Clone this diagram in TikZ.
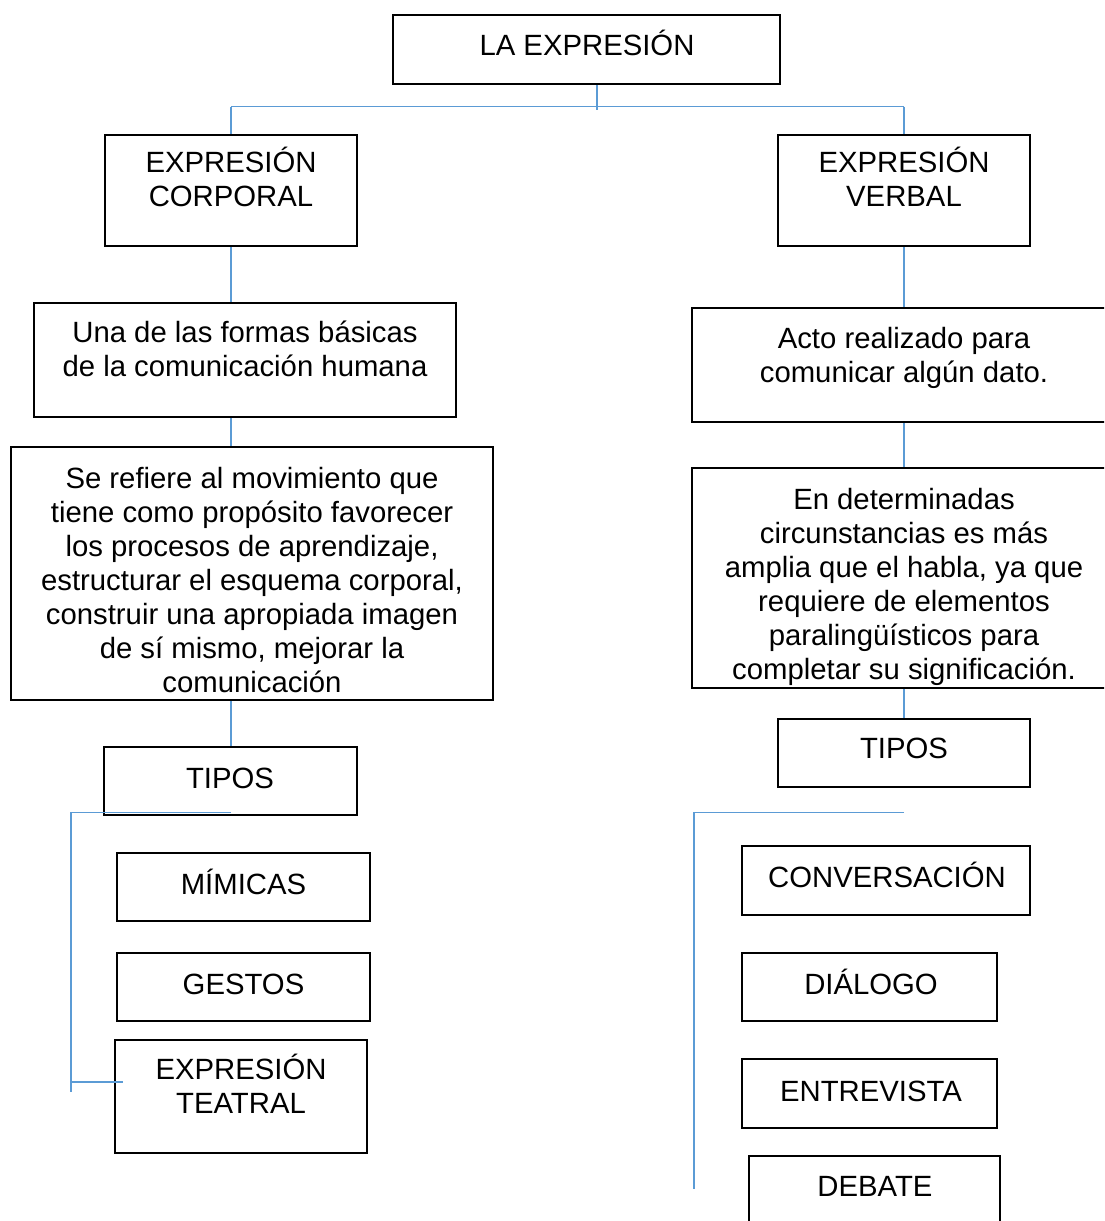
\documentclass[tikz,border=0pt]{standalone}
\usepackage{fontspec}
\setmainfont{Liberation Sans}
\newcommand{\mlines}[1]{\begin{tabular}[t]{@{}c@{}}#1\end{tabular}}
\definecolor{linkblue}{RGB}{91,155,213}
\begin{document}
\begin{tikzpicture}[x=1pt,y=-1pt,
  box/.style={draw=black, line width=2.2pt, fill=none, inner sep=0pt},
  txt/.style={anchor=base, inner sep=0pt, font=\fontsize{29.3}{34}\selectfont},
  link/.style={draw=linkblue, line width=1.6pt}]
\useasboundingbox (0,0) rectangle (1104,1221);
\clip (0,0) rectangle (1104,1221);
\fill[white] (0,0) rectangle (1104,1221);
% boxes
\node[box, minimum width=387, minimum height=69] (top) at (586.5,49.5) {};
\node[box, minimum width=252, minimum height=111] (ec) at (231,190.5) {};
\node[box, minimum width=252, minimum height=111] (ev) at (904,190.5) {};
\node[box, minimum width=422, minimum height=114] (una) at (245,360) {};
\node[box, minimum width=482, minimum height=253] (se) at (252,573.5) {};
\node[box, minimum width=253, minimum height=68] (tl) at (230.5,781) {};
\node[box, minimum width=253, minimum height=68] (mim) at (243.5,887) {};
\node[box, minimum width=253, minimum height=68] (ges) at (243.5,987) {};
\node[box, minimum width=252, minimum height=113] (tea) at (241,1096.5) {};
\node[box, minimum width=418, minimum height=114] (acto) at (901,365) {};
\node[box, minimum width=418, minimum height=220] (endet) at (901,578) {};
\node[box, minimum width=252, minimum height=68] (tr) at (904,753) {};
\node[box, minimum width=288, minimum height=69] (conv) at (886,880.5) {};
\node[box, minimum width=255, minimum height=68] (dial) at (869.5,987) {};
\node[box, minimum width=255, minimum height=69] (entr) at (869.5,1093.5) {};
\node[box, minimum width=251, minimum height=74] (deb) at (874.5,1193) {};
% texts
\node[txt] (top-t) at (587,55) {LA EXPRESIÓN};
\node[txt] (ec-t) at (231,172) {\mlines{EXPRESIÓN\\CORPORAL}};
\node[txt] (ev-t) at (904,172) {\mlines{EXPRESIÓN\\VERBAL}};
\node[txt] (una-t) at (245,342) {\mlines{Una de las formas básicas\\de la comunicación humana}};
\node[txt] (se-t) at (252,488) {\mlines{Se refiere al movimiento que\\tiene como propósito favorecer\\los procesos de aprendizaje,\\estructurar el esquema corporal,\\construir una apropiada imagen\\de sí mismo, mejorar la\\comunicación}};
\node[txt] (tl-t) at (230,788) {TIPOS};
\node[txt] (mim-t) at (243.5,894) {MÍMICAS};
\node[txt] (ges-t) at (243.5,994) {GESTOS};
\node[txt] (tea-t) at (241,1079) {\mlines{EXPRESIÓN\\TEATRAL}};
\node[txt] (acto-t) at (904,348) {\mlines{Acto realizado para\\comunicar algún dato.}};
\node[txt] (endet-t) at (904,509) {\mlines{En determinadas\\circunstancias es más\\amplia que el habla, ya que\\requiere de elementos\\paralingüísticos para\\completar su significación.}};
\node[txt] (tr-t) at (904,758) {TIPOS};
\node[txt] (conv-t) at (887,887) {CONVERSACIÓN};
\node[txt] (dial-t) at (871,994) {DIÁLOGO};
\node[txt] (entr-t) at (871,1101) {ENTREVISTA};
\node[txt] (deb-t) at (875,1196) {DEBATE};
% helper coordinates
\coordinate (tj) at (597,110);
\coordinate (hbus) at (0,106.5);
\coordinate (lb) at (71,812.5);
\coordinate (lbend) at (71,1092);
\coordinate (lbt) at (123,1082);
\coordinate (rb) at (694,812.5);
\coordinate (rbend) at (694,1189);
% connectors
\draw[link] (top.south -| tj) -- (tj);
\draw[link] (ec.north |- hbus) -- (ev.north |- hbus);
\draw[link] (ec.north |- hbus) -- (ec.north);
\draw[link] (ev.north |- hbus) -- (ev.north);
\draw[link] (ec.south) -- (ec.south |- una.north);
\draw[link] (ec.south |- una.south) -- (ec.south |- se.north);
\draw[link] (ec.south |- se.south) -- (ec.south |- tl.north);
\draw[link] (ec.south |- lb) -- (lb) -- (lbend);
\draw[link] (lb |- lbt) -- (lbt);
\draw[link] (ev.south) -- (ev.south |- acto.north);
\draw[link] (ev.south |- acto.south) -- (ev.south |- endet.north);
\draw[link] (ev.south |- endet.south) -- (tr.north);
\draw[link] (tr.south |- rb) -- (rb) -- (rbend);
\end{tikzpicture}
\end{document}
